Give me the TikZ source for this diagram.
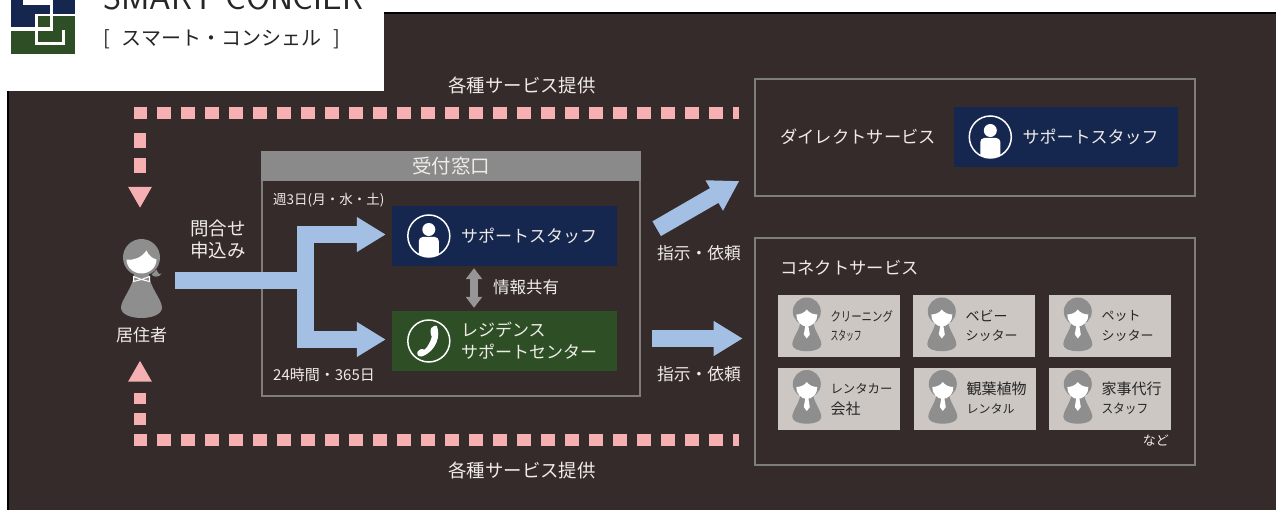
\documentclass[tikz,border=0pt]{standalone}
\usepackage{graphicx}
\usepackage{fontspec}
\setmainfont{Noto Sans CJK JP}
\usetikzlibrary{calc, arrows.meta}

\definecolor{darkbg}{HTML}{352B2A}
\definecolor{navyfill}{HTML}{15264F}
\definecolor{greenfill}{HTML}{2E4F26}
\definecolor{framegray}{HTML}{7F7D79}
\definecolor{headgray}{HTML}{8A8A8A}
\definecolor{lighttext}{HTML}{EFECE7}
\definecolor{flowblue}{HTML}{A3BFE3}
\definecolor{dotpink}{HTML}{F6B0B2}
\definecolor{cardfill}{HTML}{CCC7C2}
\definecolor{persongray}{HTML}{8E8E8E}

\tikzset{
    softtext/.style={text=lighttext, inner sep=0pt, align=left, font=\fontsize{#1}{22pt}\selectfont},
    frame/.style={draw=framegray, line width=2pt, minimum width=#1, inner sep=0pt},
    colorbox/.style={fill=#1, minimum width=225pt, minimum height=60pt, inner sep=0pt},
    cardbox/.style={fill=cardfill, minimum width=122pt, minimum height=62pt, inner sep=0pt},
    flowline/.style={draw=flowblue, line width=17pt},
    flowarrow/.style={flowline, -{Triangle[length=29pt,width=33pt]}},
    dotline/.style={draw=dotpink, line width=12pt},
    doubletip/.style={draw=headgray!90, line width=8.5pt, {Triangle[length=11pt,width=16pt]}-{Triangle[length=11pt,width=16pt]}},
    usericon/.pic={
        \draw[white, line width=1.5pt] (0,0) circle (21);
        \begin{scope}
            \clip (0,0) circle (21);
            \fill[white] (0,-6.5) circle (6.5);
            \fill[white, rounded corners=4pt] (-10,25) rectangle (10,1);
        \end{scope}
    },
    phoneicon/.pic={
        \draw[white, line width=1.5pt] (0,0) circle (21);
        \fill[white] (2.5,-13) .. controls (4,-15) and (7,-16) .. (8,-15)
            .. controls (12,-6) and (8,10) .. (-7,15.5)
            .. controls (-10,16) and (-12,14) .. (-11.5,11)
            .. controls (-9,8) and (-6,7) .. (-4,8.5)
            .. controls (-1,6) and (2,0) .. (3,-4.5)
            .. controls (1.5,-6) and (1.5,-11) .. (2.5,-13) -- cycle;
    },
    staffperson/.pic={
        \fill[persongray] (-6,8) .. controls (-7,20) and (-14.5,26) .. (-14.5,33)
            .. controls (-14.5,42) and (14.5,42) .. (14.5,33)
            .. controls (14.5,26) and (7,20) .. (6,8) -- cycle;
        \fill[persongray] (0,0) circle (14);
        \fill[white] (-10.5,3) .. controls (-6,3) and (-2,1) .. (0,-2)
            .. controls (2,1) and (6,3) .. (10.5,3)
            .. controls (11,10) and (5,15) .. (0,15)
            .. controls (-5,15) and (-11,10) .. (-10.5,3) -- cycle;
        \fill[white] (-1.5,14) -- (1.5,14) -- (3,23) -- (0,27) -- (-3,23) -- cycle;
    },
    residentperson/.pic={
        \fill[persongray] (-7,15) .. controls (-8,30) and (-20.5,42) .. (-20.5,50)
            .. controls (-20.5,64) and (20.5,64) .. (20.5,50)
            .. controls (20.5,42) and (8,30) .. (7,15) -- cycle;
        \fill[persongray] (0,0) circle (18.5);
        \fill[persongray] (15,12) .. controls (17,17) and (19,18) .. (20,16)
            .. controls (18,20) and (12,20) .. (10,17) -- cycle;
        \fill[white] (-15,2) .. controls (-7,3) and (0,0) .. (5,-7)
            .. controls (7,-2) and (11,1) .. (15,2)
            .. controls (15,10) and (8,16) .. (0,16)
            .. controls (-8,16) and (-15,10) .. (-15,2) -- cycle;
        \draw[white, line width=1pt] (-8,19) -- (0,22) -- (8,19) -- (8,24) -- (0,22) -- (-8,24) -- cycle;
    },
}

\begin{document}
\begin{tikzpicture}[x=1pt, y=-1pt]
    \useasboundingbox (0,0) rectangle (1276,510);
    \clip (0,0) rectangle (1276,510);
    \fill[white] (0,0) rectangle (1276,510);
    \fill[darkbg] (8,13) rectangle (1276,510);
    \fill[black] (7,13) rectangle (9,510);
    \fill[black] (7,12) rectangle (1276,14.5);

    \fill[white] (0,0) rectangle (384,91);
    \fill[navyfill] (10.7,0) rectangle (75,31);
    \fill[greenfill] (10.7,31) rectangle (75,54);
    \fill[greenfill] (38,15) rectangle (75,31);
    \fill[white] (23,0) rectangle (53,5);
    \fill[white] (50,0) rectangle (53,31);
    \fill[white] (10.7,27) rectangle (53,31);
    \fill[white] (35,14) rectangle (75,16);
    \fill[white] (35,14) rectangle (38,45);
    \fill[white] (35,42) rectangle (65,45);
    \fill[white] (62,30) rectangle (65,45);
    \node[anchor=base west, inner sep=0pt, text=black!85, font=\sffamily\fontsize{34.6pt}{35pt}\selectfont] (logoname) at (103,10) {SMART CONCIER};
    \node[anchor=west, inner sep=0pt, text=black!85, font=\fontsize{20pt}{20pt}\selectfont] (logokana) at (103,39.5) {[\hspace{12pt}スマート・コンシェル\hspace{12pt}]};

    \node[softtext=18.4pt] (topservice) at (522,85) {各種サービス提供};
    \node[softtext=18.4pt] (bottomservice) at (522,470) {各種サービス提供};

    \coordinate (topend) at (739.4,113);
    \coordinate (topcorner) at (140,113);
    \coordinate (topdrop) at (140,133);
    \coordinate (toptip) at (140,208);
    \coordinate (bottomend) at (739.4,439.5);
    \coordinate (bottomcorner) at (140,439.5);
    \coordinate (bottomrise) at (140,425);
    \coordinate (bottomtip) at (140,360.5);

    \draw[dotline, dash pattern=on 14.5pt off 9.5pt, dash phase=7.6pt] (topend) -- (topcorner) -- ($(topcorner)+(0,6.5)$);
    \draw[dotline, dash pattern=on 15pt off 10pt on 15pt off 100pt, -{Triangle[length=21pt,width=22pt]}] (topdrop) -- (toptip);
    \draw[dotline, dash pattern=on 14.5pt off 9.5pt, dash phase=7.6pt] (bottomend) -- (bottomcorner) -- ($(bottomcorner)+(0,-5.5)$);
    \draw[dotline, dash pattern=on 12pt off 9pt on 11pt off 100pt, -{Triangle[length=21pt,width=22pt]}] (bottomrise) -- (bottomtip);

    \pic at (141.5,257.5) {residentperson};
    \node[softtext=17pt] (resident) at (141.5,335) {居住者};
    \node[softtext=18.5pt, align=center] (inquiry) at (218,239.5) {問合せ\\申込み};

    \node[frame=378pt, minimum height=244pt, anchor=north west] (reception) at (261,151) {};
    \node[fill=headgray, minimum width=380pt, minimum height=30pt, inner sep=0pt, anchor=north west, text=lighttext, font=\fontsize{19.5pt}{19.5pt}\selectfont] (receptionhead) at (261,151) {受付窓口};
    \node[softtext=13.5pt, anchor=west] (weekdays) at (273,200) {週3日(月・水・土)};
    \node[softtext=15pt, anchor=west] (allhours) at (273,375) {24時間・365日};

    \node[colorbox=navyfill] (supportbox) at (504.5,236) {};
    \pic at ($(supportbox.west)+(37,0)$) {usericon};
    \node[softtext=17pt, anchor=west] (supportlabel) at ($(supportbox.west)+(69,0)$) {サポートスタッフ};

    \node[colorbox=greenfill] (centerbox) at (504.5,341) {};
    \pic at ($(centerbox.west)+(37,0)$) {phoneicon};
    \node[softtext=17pt, anchor=west] (centerlabel) at ($(centerbox.west)+(69,0)$) {レジデンス\\サポートセンター};

    \draw[doubletip, shorten <=2pt, shorten >=3pt] ($(supportbox.south)+(-30.5,0)$) -- ($(centerbox.north)+(-30.5,0)$);
    \node[softtext=16.5pt, anchor=west] (shareinfo) at (493,287) {情報共有};

    \coordinate (inquirystart) at (175,280.5);
    \coordinate (fork) at (305.5,280.5);
    \draw[flowline] (inquirystart) -- (fork);
    \draw[flowarrow, shorten >=6pt] (fork) |- ($(supportbox.west)+(0,-1.5)$);
    \draw[flowarrow, shorten >=6pt] (fork) |- ($(centerbox.west)+(0,-1.5)$);

    \coordinate (directstart) at (656.7,228.7);
    \coordinate (directtip) at (739.3,181);
    \coordinate (connectstart) at (651.7,338.5);
    \coordinate (connecttip) at (742.7,338.5);
    \draw[flowarrow] (directstart) -- (directtip);
    \draw[flowarrow] (connectstart) -- (connecttip);
    \node[softtext=16.8pt] (directorder) at (699,253) {指示・依頼};
    \node[softtext=16.8pt] (connectorder) at (699,374) {指示・依頼};

    \node[frame=440pt, minimum height=116.7pt, anchor=north west] (directframe) at (754,78) {};
    \node[softtext=17.3pt, anchor=west] (directlabel) at (780,137) {ダイレクトサービス};
    \node[colorbox=navyfill, minimum width=224pt] (directbox) at (1065.5,137) {};
    \pic at ($(directbox.west)+(37,0)$) {usericon};
    \node[softtext=17pt, anchor=west] (directstaff) at ($(directbox.west)+(69,0)$) {サポートスタッフ};

    \node[frame=440pt, minimum height=227pt, anchor=north west] (connectframe) at (754,237) {};
    \node[softtext=17.3pt, anchor=west] (connectlabel) at (780,268) {コネクトサービス};

    \foreach \cardname/\cardx/\cardy/\sizea/\linea/\sizeb/\lineb in {
        cleaning/839/326/13/{\scalebox{.8}[1]{クリーニング}}/13/{\scalebox{.6}[1]{スタッフ}},
        baby/974/326/14/ベビー/13/シッター,
        pet/1110/326/13/ペット/13/シッター,
        rental/839/398.5/12.4/レンタカー/15/会社,
        plant/975/398.5/15/観葉植物/12/レンタル,
        house/1110/398.5/15/家事代行/13/{\scalebox{.9}[1]{スタッフ}}} {
        \node[cardbox] (\cardname) at (\cardx,\cardy) {};
        \pic at ($(\cardname.west)+(29,-14.5)$) {staffperson};
        \node[anchor=west, inner sep=0pt, text=black!85, font=\fontsize{\sizea pt}{\sizea pt}\selectfont] (\cardname a) at ($(\cardname.west)+(52.5,-10)$) {\linea};
        \node[anchor=west, inner sep=0pt, text=black!85, font=\fontsize{\sizeb pt}{\sizeb pt}\selectfont] (\cardname b) at ($(\cardname.west)+(52.5,10)$) {\lineb};
    }
    \node[softtext=13pt, anchor=east] (etcetera) at (1169,440.5) {など};
\end{tikzpicture}
\end{document}
